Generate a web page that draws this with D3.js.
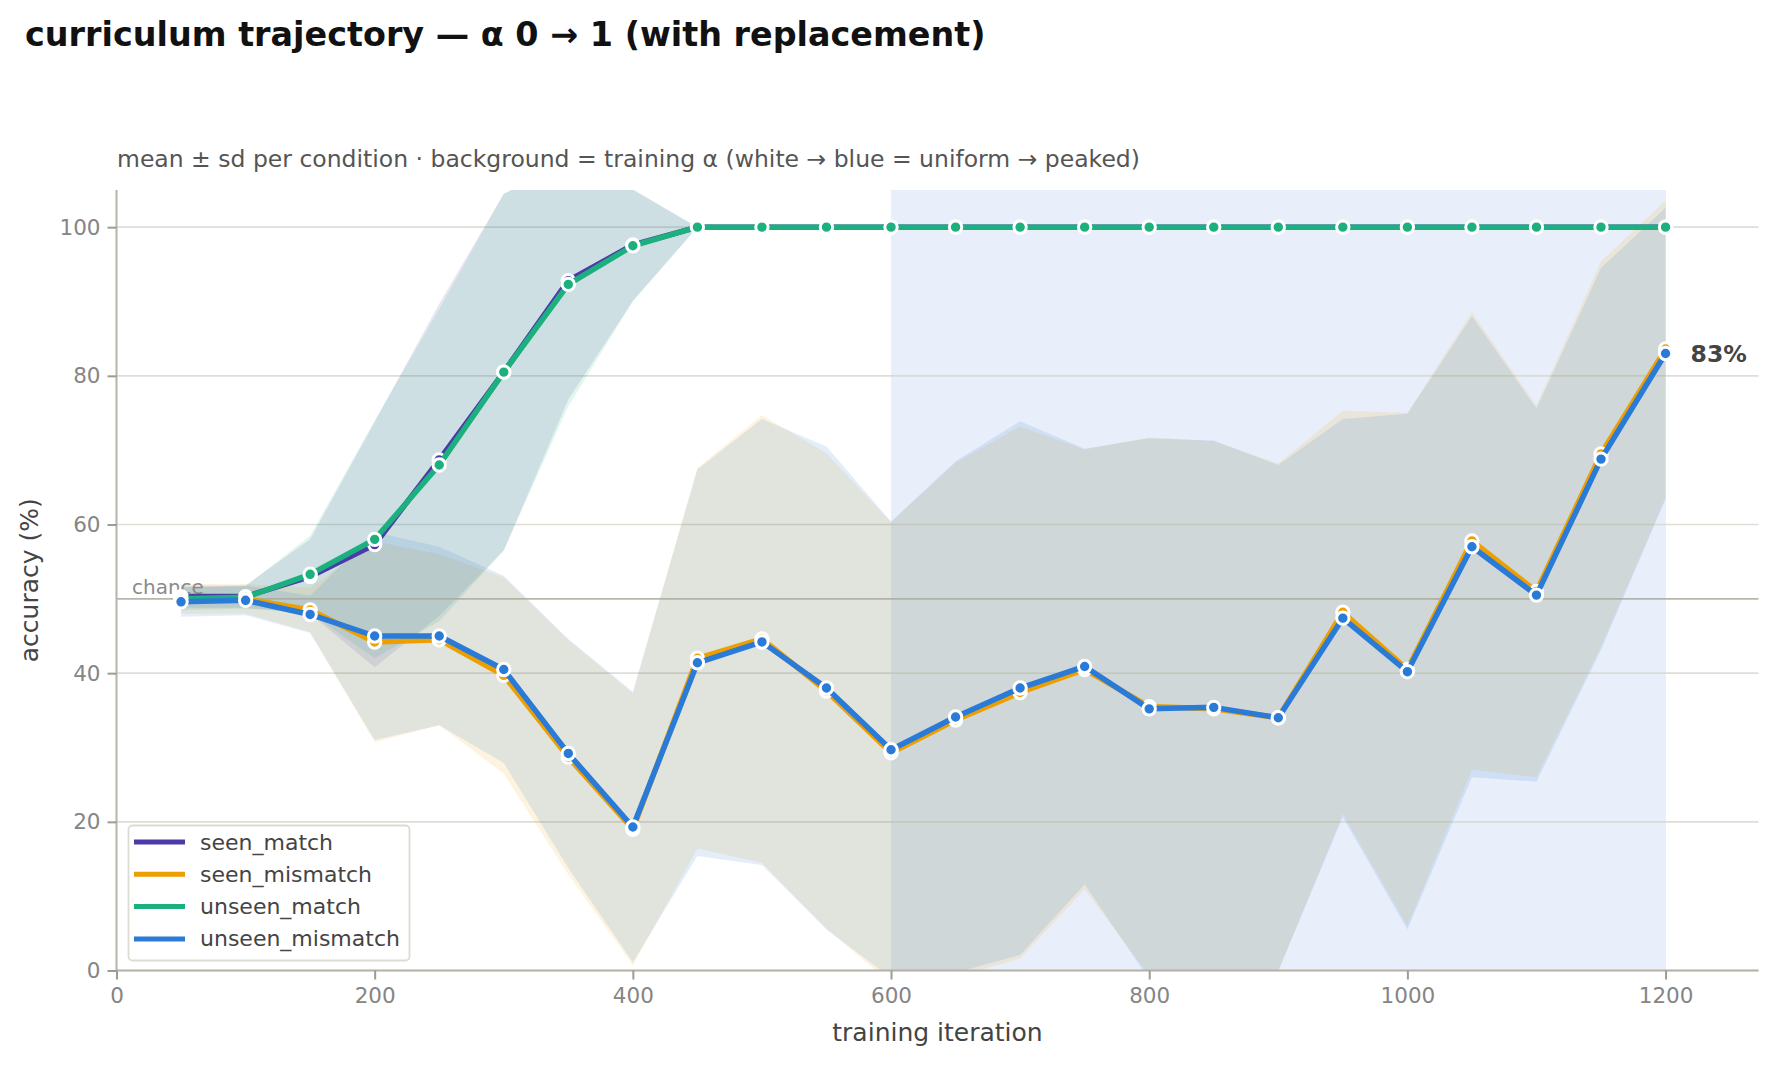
<!DOCTYPE html>
<html><head><meta charset="utf-8">
<script src="https://cdn.jsdelivr.net/npm/d3@7"></script>
<style>body{margin:0;background:#fff;} svg{display:block;font-family:"DejaVu Sans",sans-serif;}</style>
</head><body>
<svg id="chart" width="1778" height="1066"></svg>
<script>
const iterations = [50,100,150,200,250,300,350,400,450,500,550,600,650,700,750,800,850,900,950,1000,1050,1100,1150,1200];
const seenMatch      = [50.3,50.3,53.0,57.3,68.7,80.5,92.8,97.6,100,100,100,100,100,100,100,100,100,100,100,100,100,100,100,100];
const seenMatchSd    = [1.5,1.5,5.0,16.5,21,24,16,7.5,0,0,0,0,0,0,0,0,0,0,0,0,0,0,0,0];
const unseenMatch    = [50.0,50.2,53.3,58.0,68.0,80.5,92.3,97.5,100,100,100,100,100,100,100,100,100,100,100,100,100,100,100,100];
const unseenMatchSd  = [1.5,1.5,5.2,16,21,24,16.4,7.5,0,0,0,0,0,0,0,0,0,0,0,0,0,0,0,0];
const seenMismatch   = [50.0,50.0,48.5,44.2,44.5,39.7,28.7,19.0,42.0,44.6,37.6,29.3,33.7,37.4,40.5,35.5,35.2,34.0,48.2,40.5,57.8,51.0,69.5,83.6];
const seenMismatchSd = [2,2,3,13.5,11.5,13.2,15.8,18.3,25.6,30.1,32,31,34.6,35.8,29.6,36.2,36,34.2,27.1,34.5,30.8,25,25.9,20];
const unseenMismatch = [49.6,49.8,47.9,45.0,45.0,40.5,29.2,19.3,41.4,44.2,38.0,29.7,34.1,38.0,40.9,35.2,35.4,34.0,47.4,40.2,57.0,50.5,68.8,83.0];
const unseenMismatchSd=[2,2,2.5,14,12,12.6,15.4,18.2,26,30,32.5,30.7,34.4,35.9,29.3,36.4,35.9,34,26.8,34.7,31,25.1,25.7,19.6];
const trainingAlpha  = [0,0,0,0,0,0,0,0,0,0,0,1,1,1,1,1,1,1,1,1,1,1,1,1];
const yTicks = [0,20,40,60,80,100];
const xTicks = [0,200,400,600,800,1000,1200];
const seriesNames = ["seen_match","seen_mismatch","unseen_match","unseen_mismatch"];
const seriesColors = ["#4b3ba8","#ee9f00","#1db07f","#2a7ad8"];
const chanceLevel = 50;
const finalLabel = "83%";

const series = [
  {name: seriesNames[0], mean: seenMatch, sd: seenMatchSd, color: seriesColors[0]},
  {name: seriesNames[1], mean: seenMismatch, sd: seenMismatchSd, color: seriesColors[1]},
  {name: seriesNames[2], mean: unseenMatch, sd: unseenMatchSd, color: seriesColors[2]},
  {name: seriesNames[3], mean: unseenMismatch, sd: unseenMismatchSd, color: seriesColors[3]},
];

const svg = d3.select("#chart");
const L = 116.5, R = 1758.5, T = 190, B = 970.5;
const x = d3.scaleLinear().domain([0,1272]).range([L,R]);
const y = d3.scaleLinear().domain([0,105]).range([B,T]);

svg.append("defs").append("clipPath").attr("id","plotclip")
  .append("rect").attr("x",L).attr("y",T).attr("width",R-L).attr("height",B-T);

// background alpha
const bgColor = d3.interpolateRgb("#ffffff","#e8effb");
const bgG = svg.append("g");
for (let i=0;i<iterations.length-1;i++){
  if (trainingAlpha[i] <= 0) continue;
  bgG.append("rect")
    .attr("x", x(iterations[i])).attr("y", T)
    .attr("width", x(iterations[i+1]) - x(iterations[i])).attr("height", B-T)
    .attr("fill", bgColor(trainingAlpha[i])).attr("shape-rendering","crispEdges");
}

// grid
svg.append("g").selectAll("line").data(yTicks).join("line")
  .attr("x1",L).attr("x2",R).attr("y1",d=>y(d)).attr("y2",d=>y(d))
  .attr("stroke","#d6d6cc").attr("stroke-opacity",0.8).attr("stroke-width",1.6);

// bands
const area = d3.area().x((d,i)=>x(iterations[i])).y0(d=>y(d[0]-d[1])).y1(d=>y(d[0]+d[1]));
const bandG = svg.append("g").attr("clip-path","url(#plotclip)");
series.forEach(s=>{
  bandG.append("path").datum(s.mean.map((m,i)=>[m,s.sd[i]]))
    .attr("d",area).attr("fill",s.color).attr("fill-opacity",0.13).attr("stroke","none");
});

// chance line
svg.append("line").attr("x1",L).attr("x2",R).attr("y1",y(chanceLevel)).attr("y2",y(chanceLevel))
  .attr("stroke","#a9a99c").attr("stroke-width",1.8).attr("stroke-opacity",0.85);
svg.append("text").attr("x",x(12)).attr("y",y(chanceLevel)-5).text("chance")
  .attr("font-size",20).attr("fill","#8a8a8a");

// axes
const yAxis = d3.axisLeft(y).tickValues(yTicks).tickSize(9).tickPadding(7).tickFormat(d3.format("d"));
const xAxis = d3.axisBottom(x).tickValues(xTicks).tickSize(9).tickPadding(8).tickFormat(d3.format("d"));
const gy = svg.append("g").attr("transform",`translate(${L},0)`).call(yAxis);
const gx = svg.append("g").attr("transform",`translate(0,${B})`).call(xAxis);
[gx,gy].forEach(g=>{
  g.select(".domain").attr("stroke","#b4b4a8").attr("stroke-width",2);
  g.selectAll(".tick line").attr("stroke","#9c9c94").attr("stroke-width",2);
  g.selectAll(".tick text").attr("fill","#858585").attr("font-size",21.5).attr("font-family","DejaVu Sans");
});
gx.select(".domain").attr("d",`M${L},0H${R}`);
gy.select(".domain").attr("d",`M0,${B}V${T}`);

// lines & markers
const line = d3.line().x((d,i)=>x(iterations[i])).y(d=>y(d));
const lineG = svg.append("g").attr("clip-path","url(#plotclip)");
series.forEach(s=>{
  lineG.append("path").datum(s.mean).attr("d",line).attr("fill","none")
    .attr("stroke",s.color).attr("stroke-width",5.5).attr("stroke-linejoin","round");
  lineG.append("g").selectAll("circle").data(s.mean).join("circle")
    .attr("cx",(d,i)=>x(iterations[i])).attr("cy",d=>y(d)).attr("r",6.2)
    .attr("fill",s.color).attr("stroke","#ffffff").attr("stroke-width",3);
});

// final label
const last = iterations.length-1;
svg.append("text").attr("x",x(iterations[last])+25).attr("y",y(unseenMismatch[last])+8)
  .text(finalLabel).attr("font-size",23.5).attr("font-weight","bold").attr("fill","#444");

// legend
const lg = svg.append("g");
lg.append("rect").attr("x",128.5).attr("y",825.5).attr("width",281).attr("height",135).attr("rx",4)
  .attr("fill","#ffffff").attr("fill-opacity",0.85).attr("stroke","#dcdcd4").attr("stroke-width",1.8);
series.forEach((s,i)=>{
  const yy = 842 + i*32.3;
  lg.append("line").attr("x1",134).attr("x2",185).attr("y1",yy).attr("y2",yy)
    .attr("stroke",s.color).attr("stroke-width",5);
  lg.append("text").attr("x",200).attr("y",yy+7.5).text(s.name).attr("font-size",22).attr("fill","#444");
});

// titles
svg.append("text").attr("x",25).attr("y",46).text("curriculum trajectory — α 0 → 1 (with replacement)")
  .attr("font-size",33.4).attr("font-weight","bold").attr("fill","#111");
svg.append("text").attr("x",117).attr("y",167)
  .text("mean ± sd per condition · background = training α (white → blue = uniform → peaked)")
  .attr("font-size",23.5).attr("fill","#555");
svg.append("text").attr("x",(L+R)/2).attr("y",1041).attr("text-anchor","middle")
  .text("training iteration").attr("font-size",25).attr("fill","#444");
svg.append("text").attr("transform",`translate(38,${(T+B)/2}) rotate(-90)`).attr("text-anchor","middle")
  .text("accuracy (%)").attr("font-size",25).attr("fill","#444");
</script>
</body></html>
